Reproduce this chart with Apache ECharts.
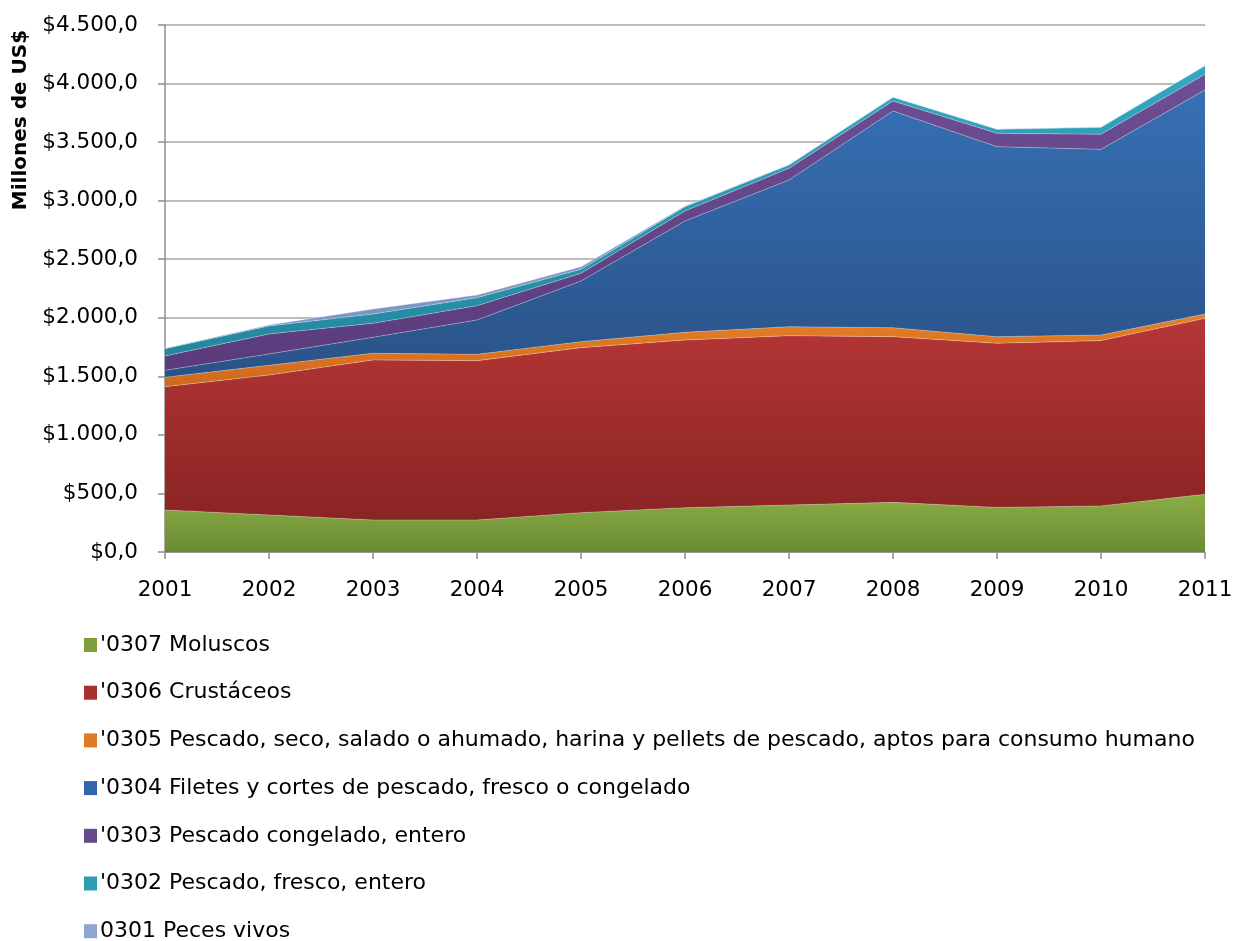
<!DOCTYPE html>
<html>
<head>
<meta charset="utf-8">
<script src="https://cdn.jsdelivr.net/npm/echarts@6/dist/echarts.min.js"></script>
<style>
  html, body { margin: 0; padding: 0; background: #fff; }
  #main { width: 1246px; height: 941px; }
</style>
</head>
<body>
<div id="main"></div>
<script>
// años y valores (millones de US$)
var years = ['2001', '2002', '2003', '2004', '2005', '2006', '2007', '2008', '2009', '2010', '2011'];
var moluscos = [359, 316, 273, 273, 336, 378, 401, 424, 381, 393, 493];
var crustaceos = [1053, 1195, 1367, 1361, 1409, 1432, 1446, 1415, 1401, 1412, 1502];
var pescadoSeco = [80, 83, 57, 54, 51, 66, 77, 76, 57, 48, 37];
var filetes = [59, 97, 136, 293, 518, 950, 1252, 1851, 1622, 1585, 1913];
var congelado = [123, 171, 120, 122, 66, 86, 100, 85, 114, 129, 134];
var fresco = [62, 68, 79, 69, 34, 37, 29, 32, 34, 59, 74];
var pecesVivos = [3, 8, 43, 22, 22, 6, 3, 3, 3, 3, 3];
var yTicks = [0, 500, 1000, 1500, 2000, 2500, 3000, 3500, 4000, 4500];

var names = [
  "'0307 Moluscos",
  "'0306 Crustáceos",
  "'0305 Pescado, seco, salado o ahumado, harina y pellets de pescado, aptos para consumo humano",
  "'0304 Filetes y cortes de pescado, fresco o congelado",
  "'0303 Pescado congelado, entero",
  "'0302 Pescado, fresco, entero",
  "0301 Peces vivos"
];
var values = [moluscos, crustaceos, pescadoSeco, filetes, congelado, fresco, pecesVivos];
// color claro arriba, oscuro abajo (relleno degradado tipo Excel)
var colors = [
  ['#8AAE45', '#6A8A32'],
  ['#B63636', '#8A2424'],
  ['#E57F27', '#D06A1C'],
  ['#3670B4', '#2A5288'],
  ['#6E4E94', '#5A3C7C'],
  ['#34A8C2', '#23889E'],
  ['#93ACD6', '#7893C2']
];
var legendColors = ['#7F9F3E', '#A8302F', '#E07A25', '#3266AA', '#674A8C', '#2E9CB5', '#8EA6D0'];

var FONT = 'DejaVu Sans';

function fmt(v) {
  var s = String(Math.round(v));
  s = s.replace(/\B(?=(\d{3})+(?!\d))/g, '.');
  return '$' + s + ',0';
}

var chart = echarts.init(document.getElementById('main'));

var series = values.map(function (d, i) {
  return {
    name: names[i],
    type: 'line',
    stack: 'total',
    data: d,
    symbol: 'none',
    lineStyle: { width: 0.8, color: 'rgba(255,255,255,0.35)' },
    areaStyle: {
      opacity: 1,
      color: new echarts.graphic.LinearGradient(0, 0, 0, 1, [
        { offset: 0, color: colors[i][0] },
        { offset: 1, color: colors[i][1] }
      ])
    },
    itemStyle: { color: legendColors[i] },
    emphasis: { disabled: true },
    animation: false
  };
});

var option = {
  animation: false,
  textStyle: { fontFamily: FONT, color: '#000' },
  grid: { left: 165, right: 41, top: 25, bottom: 389, outerBoundsMode: 'none' },
  graphic: [{
    type: 'text',
    x: 21,
    y: 120,
    rotation: Math.PI / 2,
    style: {
      text: 'Millones de US$',
      font: 'bold 20px "DejaVu Sans"',
      fill: '#000',
      align: 'center',
      verticalAlign: 'middle'
    }
  }],
  legend: {
    orient: 'vertical',
    left: 79,
    top: 628,
    height: 340,
    itemWidth: 13,
    itemHeight: 14,
    itemGap: 23.7,
    icon: 'rect',
    selectedMode: false,
    textStyle: { fontFamily: FONT, fontSize: 22, lineHeight: 24, color: '#000', padding: [0, 0, 0, -2] },
    data: names.map(function (n, i) {
      return { name: n, itemStyle: { color: legendColors[i] } };
    })
  },
  xAxis: {
    type: 'category',
    boundaryGap: false,
    data: years,
    axisLine: { lineStyle: { color: '#8C8C8C', width: 1.5 } },
    axisTick: { show: true, alignWithLabel: true, length: 7, lineStyle: { color: '#8C8C8C', width: 1.5 } },
    axisLabel: { fontSize: 21.5, color: '#000', margin: 27, fontFamily: FONT }
  },
  yAxis: {
    type: 'value',
    min: 0,
    max: yTicks[yTicks.length - 1],
    interval: yTicks[1] - yTicks[0],
    axisLine: { show: true, lineStyle: { color: '#8C8C8C', width: 1.5 } },
    axisTick: { show: true, length: 7, lineStyle: { color: '#8C8C8C', width: 1.5 } },
    splitLine: { show: true, lineStyle: { color: '#A6A6A6', width: 1.5 } },
    axisLabel: { fontSize: 21.5, color: '#000', margin: 27, fontFamily: FONT, formatter: fmt }
  },
  series: series
};

chart.setOption(option);
</script>
</body>
</html>
